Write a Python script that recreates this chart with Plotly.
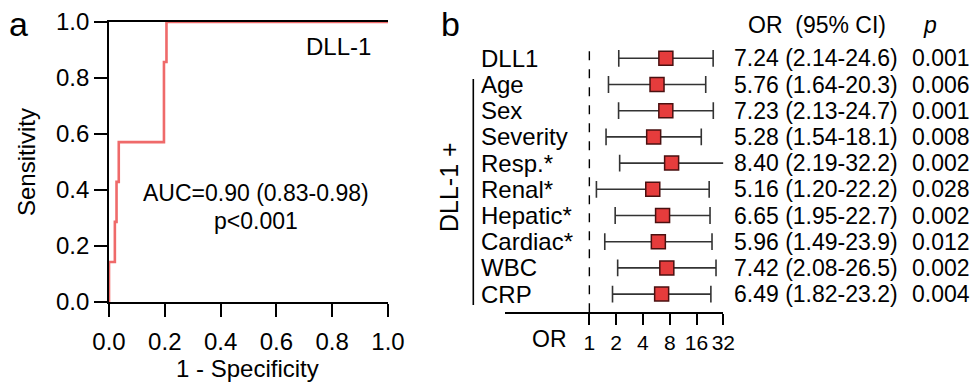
import plotly.graph_objects as go

W, H = 971, 386
FONT = "Liberation Sans, Arial, sans-serif"

# ---- Panel a: ROC data ----
roc_fpr = [0.0, 0.0, 0.021, 0.021, 0.027, 0.027, 0.035, 0.035, 0.197, 0.197, 0.206, 0.206, 1.0]
roc_tpr = [0.0, 0.143, 0.143, 0.286, 0.286, 0.429, 0.429, 0.571, 0.571, 0.857, 0.857, 1.0, 1.0]
roc_ticks = [0.0, 0.2, 0.4, 0.6, 0.8, 1.0]

# ---- Panel b: forest plot data ----
labels = ["DLL1", "Age", "Sex", "Severity", "Resp.*", "Renal*", "Hepatic*", "Cardiac*", "WBC", "CRP"]
or_val = [7.24, 5.76, 7.23, 5.28, 8.40, 5.16, 6.65, 5.96, 7.42, 6.49]
ci_lo = [2.14, 1.64, 2.13, 1.54, 2.19, 1.20, 1.95, 1.49, 2.08, 1.82]
ci_hi = [24.6, 20.3, 24.7, 18.1, 32.2, 22.2, 22.7, 23.9, 26.5, 23.2]
p_val = ["0.001", "0.006", "0.001", "0.008", "0.002", "0.028", "0.002", "0.012", "0.002", "0.004"]
or_ticks = [1, 2, 4, 8, 16, 32]


def px(x):
    return x / W


def py(y):
    return 1 - y / H


fig = go.Figure()

# ROC curve
fig.add_trace(go.Scatter(x=roc_fpr, y=roc_tpr, mode="lines",
                         line=dict(color="#ef6a6a", width=2.6),
                         xaxis="x", yaxis="y", cliponaxis=False, showlegend=False))

# Forest plot CI lines
lx, ly, cx, cy = [], [], [], []
for i in range(len(labels)):
    lx += [ci_lo[i], ci_hi[i], None]
    ly += [i, i, None]
    cx.append(ci_lo[i]); cy.append(i)
    if ci_hi[i] <= 30:
        cx.append(ci_hi[i]); cy.append(i)
fig.add_trace(go.Scatter(x=lx, y=ly, mode="lines", line=dict(color="#333333", width=1.6),
                         xaxis="x2", yaxis="y2", showlegend=False))
fig.add_trace(go.Scatter(x=cx, y=cy, mode="markers",
                         marker=dict(symbol="line-ns", size=12, line=dict(color="#333333", width=1.6)),
                         xaxis="x2", yaxis="y2", showlegend=False))
fig.add_trace(go.Scatter(x=or_val, y=list(range(len(labels))), mode="markers",
                         marker=dict(symbol="square", size=14, color="#e63c3c",
                                     line=dict(color="#4a1010", width=1.5)),
                         xaxis="x2", yaxis="y2", showlegend=False))

row0, rowstep = 58.3, 26.2
y2_top = (43 - row0) / rowstep
y2_bot = (312.3 - row0) / rowstep

axis_common = dict(showgrid=False, zeroline=False, showline=True, linecolor="black", linewidth=1.6,
                   ticks="outside", tickcolor="black", tickwidth=1.6, automargin=False)

fig.update_layout(
    width=W, height=H,
    margin=dict(l=0, r=0, t=0, b=0),
    paper_bgcolor="white", plot_bgcolor="white",
    font=dict(family=FONT, color="black"),
    xaxis=dict(domain=[px(109), px(388)], range=[0, 1], tickvals=roc_ticks, tickformat=".1f",
               ticklen=13, mirror=True, anchor="y", tickangle=0, ticklabelstandoff=4,
               tickfont=dict(family=FONT, size=24, color="black"), **axis_common),
    yaxis=dict(domain=[py(302), py(22)], range=[0, 1], tickvals=roc_ticks, tickformat=".1f",
               ticklen=13, anchor="x",
               tickfont=dict(family=FONT, size=24, color="black"), **axis_common),
    xaxis2=dict(domain=[px(505), px(723.3)], type="log",
                range=[-0.948, 1.5051], tickvals=or_ticks, ticktext=[str(t) for t in or_ticks],
                ticklen=11, anchor="y2", tickangle=0,
                tickfont=dict(family=FONT, size=21, color="black"), **axis_common),
    yaxis2=dict(domain=[py(312.3), py(43)], range=[y2_bot, y2_top], visible=False,
                anchor="x2", automargin=False),
)

# dashed reference line at OR = 1
fig.add_shape(type="line", xref="x2", yref="y2 domain", x0=1, x1=1, y0=0, y1=1,
              line=dict(color="black", width=1.4, dash="dash"))
# bracket line for adjusted rows
fig.add_shape(type="line", xref="paper", yref="y2", x0=px(473.3), x1=px(473.3),
              y0=(79 - row0) / rowstep, y1=(305 - row0) / rowstep,
              line=dict(color="black", width=1.6))

ann = []


def text(x, y, s, size=24, xanchor="center", yanchor="middle", angle=0, **kw):
    ann.append(dict(x=px(x), y=py(y), xref="paper", yref="paper", text=s, showarrow=False,
                    xanchor=xanchor, yanchor=yanchor, textangle=angle,
                    font=dict(family=FONT, size=size, color="black"), **kw))


text(18, 24, "a", size=34)
text(450, 24, "b", size=34)
text(27, 162, "Sensitivity", angle=-90)
text(247, 368, "1 - Specificity")
text(373, 47, "DLL-1", xanchor="right")
text(256, 193, "AUC=0.90 (0.83-0.98)", size=23)
text(256, 221, "p<0.001", size=23)
text(449, 187, "DLL-1 +", size=25, angle=-90)
text(549, 339, "OR", size=23)
text(817, 25, "OR  (95% CI)", size=23)
text(930, 25, "<i>p</i>", size=23)

for i, lab in enumerate(labels):
    yy = row0 + i * rowstep
    text(479, yy, lab, size=24, xanchor="left")
    text(732, yy, f"{or_val[i]:.2f} ({ci_lo[i]:.2f}-{ci_hi[i]:.1f})", size=23, xanchor="left")
    text(910, yy, p_val[i], size=23, xanchor="left")

fig.update_layout(annotations=ann)
fig.write_html("out.html", config={"responsive": False, "displayModeBar": False},
               post_script="document.body.style.margin='0px';document.body.style.overflow='hidden';")
